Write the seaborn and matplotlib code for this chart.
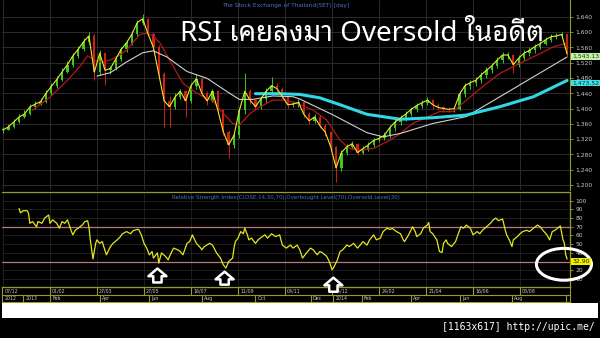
import matplotlib
matplotlib.use("Agg")
import matplotlib.pyplot as plt
import seaborn as sns
import numpy as np
from matplotlib import font_manager as fm
from matplotlib.patches import Ellipse, FancyArrowPatch, Rectangle, ArrowStyle
from matplotlib.ticker import FuncFormatter

# ---------------- data ----------------
# trading-day index of each (4-day) candle, 07/12/2012 .. end of series
candle_day = list(range(0, 421, 4))
close = [1344, 1352, 1365, 1378, 1386, 1404, 1412, 1418, 1440, 1458,
         1476, 1496, 1515, 1538, 1555, 1575, 1590, 1495, 1545, 1500,
         1505, 1530, 1555, 1572, 1595, 1625, 1635, 1595, 1560, 1490,
         1420, 1405, 1430, 1445, 1420, 1460, 1478, 1440, 1420, 1445,
         1395, 1340, 1305, 1330, 1395, 1445, 1422, 1405, 1425, 1445,
         1460, 1452, 1432, 1410, 1412, 1416, 1385, 1368, 1378, 1355,
         1338, 1300, 1245, 1285, 1300, 1308, 1285, 1295, 1305, 1317,
         1322, 1330, 1350, 1365, 1375, 1386, 1398, 1408, 1415, 1422,
         1410, 1403, 1400, 1398, 1400, 1438, 1460, 1468, 1474, 1488,
         1500, 1512, 1527, 1540, 1540, 1515, 1532, 1545, 1552, 1562,
         1570, 1580, 1588, 1590, 1594, 1543.13]
high = [1352, 1360, 1372, 1385, 1395, 1412, 1420, 1428, 1448, 1466,
        1485, 1505, 1524, 1546, 1563, 1584, 1600, 1594, 1552, 1548,
        1512, 1538, 1562, 1580, 1604, 1632, 1648, 1638, 1600, 1565,
        1495, 1432, 1440, 1452, 1448, 1468, 1490, 1482, 1445, 1452,
        1448, 1398, 1345, 1338, 1402, 1492, 1450, 1426, 1432, 1454,
        1483, 1466, 1456, 1436, 1420, 1424, 1418, 1392, 1386, 1382,
        1360, 1342, 1302, 1292, 1308, 1316, 1310, 1302, 1312, 1324,
        1330, 1338, 1357, 1372, 1382, 1394, 1405, 1415, 1422, 1430,
        1425, 1414, 1408, 1405, 1408, 1445, 1468, 1475, 1482, 1496,
        1508, 1520, 1535, 1548, 1549, 1542, 1540, 1552, 1560, 1570,
        1578, 1588, 1596, 1598, 1600, 1596]
low = [1336, 1343, 1350, 1362, 1376, 1384, 1400, 1409, 1415, 1436,
       1454, 1472, 1492, 1510, 1532, 1550, 1568, 1475, 1488, 1462,
       1490, 1500, 1524, 1548, 1565, 1590, 1618, 1590, 1552, 1482,
       1352, 1352, 1398, 1425, 1378, 1414, 1452, 1432, 1410, 1416,
       1388, 1332, 1270, 1298, 1322, 1385, 1412, 1398, 1400, 1418,
       1440, 1444, 1425, 1402, 1404, 1405, 1378, 1360, 1362, 1348,
       1328, 1290, 1208, 1238, 1278, 1295, 1278, 1282, 1290, 1300,
       1312, 1318, 1324, 1342, 1358, 1368, 1380, 1392, 1402, 1410,
       1400, 1396, 1392, 1390, 1392, 1396, 1430, 1452, 1460, 1466,
       1480, 1492, 1505, 1520, 1530, 1492, 1508, 1525, 1538, 1545,
       1555, 1565, 1575, 1582, 1584, 1538]

red_day = [22, 35, 48, 57, 63, 69, 74, 80, 87, 92, 98, 102, 107, 112, 117, 122,
           127, 134, 141, 149, 156, 164, 171, 176, 184, 191, 201, 211, 219, 231,
           241, 251, 258, 266, 276, 288, 296, 305, 316, 325, 335, 345, 357, 370,
           380, 390, 400, 410, 420]
red_val = [1396, 1430, 1474, 1509, 1538, 1525, 1522, 1527, 1540, 1553, 1578, 1594,
           1597, 1590, 1571, 1540, 1509, 1466, 1448, 1431, 1422, 1387, 1361, 1357,
           1387, 1404, 1422, 1422, 1413, 1396, 1370, 1317, 1296, 1291, 1296, 1317,
           1335, 1361, 1378, 1392, 1392, 1422, 1457, 1492, 1510, 1527, 1544, 1562,
           1571]

grey_day = [70, 80, 92, 104, 112, 122, 137, 152, 167, 176, 186, 201, 216, 221,
            246, 271, 283, 296, 320, 345, 370, 395, 420]
grey_val = [1485, 1494, 1522, 1546, 1551, 1535, 1497, 1479, 1444, 1424, 1424,
            1433, 1431, 1425, 1383, 1337, 1326, 1335, 1361, 1379, 1431, 1483, 1535]

cyan_day = [188, 205, 221, 236, 251, 271, 296, 320, 345, 370, 395, 420]
cyan_val = [1439, 1439, 1437, 1428, 1410, 1385, 1372, 1376, 1383, 1405, 1431, 1473.52]

rsi_day = [12, 13, 15, 18, 19, 20, 22, 25, 26, 29, 31, 34, 35, 37, 40, 42, 44, 46, 48,
           51, 52, 54, 56, 59, 61, 63, 64, 65, 66, 67, 69, 70, 72, 74, 75, 77, 80, 82,
           85, 87, 89, 92, 95, 97, 100, 101, 103, 105, 107, 109, 111, 112, 115, 116,
           118, 121, 123, 124, 127, 130, 132, 134, 137, 139, 141, 144, 147, 148, 150,
           154, 156, 159, 162, 164, 166, 168, 171, 172, 173, 175, 177, 179, 180, 182,
           183, 185, 188, 190, 193, 195, 197, 200, 203, 206, 208, 211, 214, 216, 219,
           221, 223, 226, 229, 231, 234, 236, 238, 241, 243, 245, 246, 249, 251, 253,
           256, 258, 261, 264, 266, 268, 271, 273, 276, 278, 281, 283, 286, 288, 290,
           293, 296, 298, 299, 302, 305, 307, 308, 311, 313, 316, 317, 318, 320, 323,
           325, 327, 328, 330, 331, 334, 337, 339, 341, 343, 345, 348, 350, 353, 355,
           357, 360, 363, 365, 367, 369, 372, 374, 375, 377, 379, 380, 383, 385, 387,
           390, 392, 395, 398, 400, 402, 405, 407, 409, 411, 413, 415, 417, 418, 419,
           420]
rsi_val = [91, 86, 88.5, 88.5, 85.5, 74, 76, 70, 76, 74, 80, 83.6, 74, 78, 74, 68.4,
           76, 74, 78, 64.5, 60.7, 66.4, 68.4, 72, 76, 77, 70, 55, 43.6, 33, 51, 55,
           51, 53, 47.3, 37.8, 47.3, 51, 55, 58, 62, 64.5, 62, 65.6, 67, 67, 60.7, 51,
           45.5, 37.8, 41.6, 34, 40, 28.3, 40, 36, 32, 36, 45.5, 43.6, 41.6, 37.8, 51,
           53, 60.7, 51, 46, 43.6, 47.3, 51, 49, 40, 34, 26.4, 22.6, 30, 34, 45.5, 53,
           57, 64.5, 62, 68.4, 60.7, 55, 57, 51, 55, 58.7, 60.7, 57, 62, 58.7, 60.7,
           49, 45.5, 49, 45.5, 49, 43.6, 34, 40, 45.5, 43.6, 37.8, 41.6, 40, 36, 30,
           20.7, 22.6, 32, 41.6, 43.6, 49, 47.3, 51, 45.5, 49, 53, 49, 55, 60.7, 55,
           57, 64.5, 68.4, 67, 68, 64.5, 62, 55, 53, 60.7, 70, 64.5, 58.7, 62, 68.4,
           72, 75, 64.5, 62, 55, 41.6, 40.5, 51, 55, 51, 47.3, 53, 62, 70, 68.4, 72,
           68.4, 60.7, 64.5, 62, 66, 70, 74, 78, 80, 77, 79, 66, 60.7, 55, 47.3, 55,
           58.7, 62, 64.5, 66, 64.5, 68.4, 72, 70, 66, 60.7, 55, 64.5, 66, 68.4, 71,
           55, 51, 38, 32.9]

overbought = 70
oversold = 30
last_close_label = 1543.13
ma200_label = 1473.52
rsi_label = 32.90

price_ticks = [1200, 1240, 1280, 1320, 1360, 1400, 1440, 1480, 1520, 1560, 1600, 1640]
rsi_ticks = [10, 20, 30, 40, 50, 60, 70, 80, 90, 100]
rsi_tick_lab = ['10', '20', '', '40', '50', '60', '70', '80', '90', '100']  # 30 hidden by the value box

date_tick_day = [0, 35, 70, 105, 140, 175, 210, 245, 280, 315, 350, 385]
date_tick_lab = ['07/12', '01/02', '27/03', '27/05', '16/07', '11/09', '04/11',
                 '25/12', '24/02', '21/04', '16/06', '08/08']
month_day = [-0.7, 15, 35, 72, 109, 148, 188, 229, 246, 267, 304, 340, 379, 419]
month_lab = ['2012', '2013', 'Feb', 'Apr', 'Jun', 'Aug', 'Oct', 'Dec', '2014',
             'Feb', 'Apr', 'Jun', 'Aug', '']

arrow_day = [115, 165, 246]
title_text = 'RSI เคยลงมา Oversold ในอดีต'
sub_text = 'The Stock Exchange of Thailand(SET) [day]'
rsi_text = 'Relative Strength Index(CLOSE,14,30,70),Overbought Level(70),Oversold Level(30)'
footer_text = '[1163x617] http://upic.me/'

# ---------------- fonts ----------------
def find_thai_family():
    try:
        from fontTools.ttLib import TTFont
    except Exception:
        return None
    found = []
    seen = set()
    for f in fm.fontManager.ttflist:
        if f.name in seen:
            continue
        seen.add(f.name)
        try:
            tt = TTFont(f.fname, fontNumber=0, lazy=True)
            cmap = tt.getBestCmap() or {}
            tt.close()
        except Exception:
            continue
        if 0x0E40 in cmap and 0x0E22 in cmap and 0x0E15 in cmap and 0x0E2D in cmap:
            found.append(f.name)
    if not found:
        return None
    for pref in ['Noto Sans Thai', 'Loma', 'Garuda', 'Sarabun', 'Kanit', 'Tlwg']:
        for n in found:
            if pref.lower() in n.lower():
                return n
    return found[0]

sns.set_theme(style='dark')
plt.rcParams['font.family'] = ['DejaVu Sans']
plt.rcParams['axes.facecolor'] = 'black'
plt.rcParams['figure.facecolor'] = 'black'
thai = find_thai_family()
title_family = [thai, 'DejaVu Sans'] if thai else ['DejaVu Sans']

OLIVE = '#9a9a26'
GRID = '#2c2c2c'
TXT = '#c8c8c8'
BLUE = '#4a72c4'

W, H = 600.0, 338.0
def fx(px):
    return px / W
def fy(py):
    return 1 - py / H

fig = plt.figure(figsize=(6, 3.38), dpi=100, facecolor='black')
ax = fig.add_axes([fx(2), fy(190), fx(570) - fx(2), fy(0) - fy(190)])
axr = fig.add_axes([fx(2), fy(287), fx(570) - fx(2), fy(192) - fy(287)])
axd = fig.add_axes([fx(2), fy(302), fx(570) - fx(2), fy(287) - fy(302)])
XL = (-0.74, 422.2)

# ---------------- price panel ----------------
ax.set_facecolor('black')
c = np.array(close, dtype=float)
o = np.concatenate([[c[0]], c[:-1]])
up = c >= o
cols = np.where(up, '#3cc81e', '#d42010')
ax.vlines(candle_day, low, high, colors=cols, lw=0.7, zorder=2)
body_h = np.maximum(np.abs(c - o), 1.5)
ax.bar(candle_day, body_h, bottom=np.minimum(o, c), width=1.7, color=cols, lw=0, zorder=2)
sns.lineplot(x=red_day, y=red_val, ax=ax, color='#b41818', lw=0.9, estimator=None,
             sort=False, legend=False, zorder=3)
sns.lineplot(x=grey_day, y=grey_val, ax=ax, color='#d0d0d0', lw=0.8, estimator=None,
             sort=False, legend=False, zorder=3)
sns.lineplot(x=cyan_day, y=cyan_val, ax=ax, color='#30d8e4', lw=2.2, estimator=None,
             sort=False, legend=False, zorder=4)
sns.lineplot(x=candle_day, y=close, ax=ax, color='#e8e830', lw=0.8, estimator=None,
             sort=False, legend=False, zorder=4)
ax.set_xlim(*XL)
ax.set_ylim(1187, 1684)
ax.set_xticks(date_tick_day)
ax.set_yticks(price_ticks)
ax.yaxis.tick_right()
ax.yaxis.set_major_formatter(FuncFormatter(lambda v, p: f'{v:,.0f}'))
ax.tick_params(axis='y', color=OLIVE, labelcolor=TXT, labelsize=4.3, length=2,
               width=0.6, pad=2, right=True, left=False)
ax.tick_params(axis='x', length=0, labelbottom=False)
ax.grid(True, color=GRID, lw=0.7)
ax.set_axisbelow(True)
ax.set_xlabel('')
ax.set_ylabel('')
for s in ['top', 'left', 'bottom']:
    ax.spines[s].set_visible(False)
ax.spines['right'].set_color(OLIVE)
ax.spines['right'].set_linewidth(0.8)

ytr = ax.get_yaxis_transform()
ax.text(1.004, last_close_label, f'{last_close_label:,.2f}', transform=ytr, ha='left',
        va='top', fontsize=4.4, color='#1a3a1a', zorder=10,
        bbox=dict(boxstyle='square,pad=0.15', fc='#c4f0a4', ec='none'))
ax.text(1.004, ma200_label, f'{ma200_label:,.2f}', transform=ytr, ha='left',
        va='top', fontsize=4.4, color='#0c3030', zorder=10,
        bbox=dict(boxstyle='square,pad=0.15', fc='#40e0e4', ec='none'))

# ---------------- RSI panel ----------------
axr.set_facecolor('black')
sns.lineplot(x=rsi_day, y=rsi_val, ax=axr, color='#e6e61e', lw=0.9, estimator=None,
             sort=False, legend=False, zorder=4)
axr.axhline(overbought, color='#b87a78', lw=0.9, zorder=2)
axr.axhline(oversold, color='#b87a78', lw=0.9, zorder=2)
axr.set_xlim(*XL)
axr.set_ylim(0.8, 110)
axr.set_xticks(date_tick_day)
axr.set_yticks(rsi_ticks)
axr.set_yticklabels(rsi_tick_lab)
axr.yaxis.tick_right()
axr.tick_params(axis='y', color=OLIVE, labelcolor=TXT, labelsize=4.3, length=2,
                width=0.6, pad=2, right=True, left=False)
axr.tick_params(axis='x', length=0, labelbottom=False)
axr.grid(True, color='#232323', lw=0.6)
axr.set_axisbelow(True)
axr.set_xlabel('')
axr.set_ylabel('')
axr.spines['left'].set_visible(False)
for s in ['top', 'bottom', 'right']:
    axr.spines[s].set_color(OLIVE)
    axr.spines[s].set_linewidth(0.9)
axr.set_zorder(5)

rtr = axr.get_yaxis_transform()
axr.text(1.004, rsi_label, f'{rsi_label:.2f}', transform=rtr, ha='left', va='top',
         fontsize=4.4, color='#202000', zorder=12,
         bbox=dict(boxstyle='square,pad=0.15', fc='#f0f000', ec='none'))

ell = Ellipse((417.7, 26.9), width=41, height=36.6, transform=axr.transData,
              fill=False, ec='white', lw=2.2, clip_on=False, zorder=11)
axr.add_patch(ell)

arrow_tip = [22, 18.4, 11.5]
arrow_base = [6, 3.5, -4.6]
for d, t, b in zip(arrow_day, arrow_tip, arrow_base):
    arr = FancyArrowPatch((d, b), (d, t), transform=axr.transData,
                          arrowstyle=ArrowStyle.Simple(head_length=0.55, head_width=1.3,
                                                       tail_width=0.6),
                          mutation_scale=10, fc='black', ec='white', lw=1.8,
                          shrinkA=0, shrinkB=0, clip_on=False, zorder=12)
    axr.add_patch(arr)

# ---------------- date rows ----------------
axd.set_facecolor('black')
axd.set_xlim(*XL)
axd.set_ylim(0, 2)
axd.set_xticks([])
axd.set_yticks([])
axd.grid(False)
for s in ['top', 'bottom', 'left', 'right']:
    axd.spines[s].set_color(OLIVE)
    axd.spines[s].set_linewidth(0.8)
axd.axhline(1, color=OLIVE, lw=0.8)
axd.vlines(date_tick_day[1:], 1, 2, colors=OLIVE, lw=0.8)
for d, lab in zip(date_tick_day, date_tick_lab):
    axd.text(d + 1.6, 1.5, lab, fontsize=3.4, color=TXT, ha='left', va='center')
axd.vlines(month_day[1:], 0, 1, colors=OLIVE, lw=0.8)
for d, lab in zip(month_day, month_lab):
    axd.text(d + 1.6, 0.5, lab, fontsize=3.4, color=TXT, ha='left', va='center')

# ---------------- texts and footer ----------------
fig.text(fx(180), fy(41), title_text, fontsize=20, color='white', ha='left',
         va='baseline', family=title_family, zorder=20)
fig.text(fx(286), fy(6), sub_text, fontsize=4.2, color=BLUE, ha='center', va='center')
fig.text(fx(286), fy(197.5), rsi_text, fontsize=4.0, color=BLUE, ha='center',
         va='center', zorder=20)
fig.patches.append(Rectangle((fx(2), fy(317.5)), fx(598) - fx(2), fy(303) - fy(317.5),
                             transform=fig.transFigure, fc='white', ec='none'))
fig.text(fx(595), fy(327.5), footer_text, fontsize=7, color='white', ha='right',
         va='center', family=['DejaVu Sans Mono'])

fig.savefig('out.png', dpi=100, facecolor='black')
